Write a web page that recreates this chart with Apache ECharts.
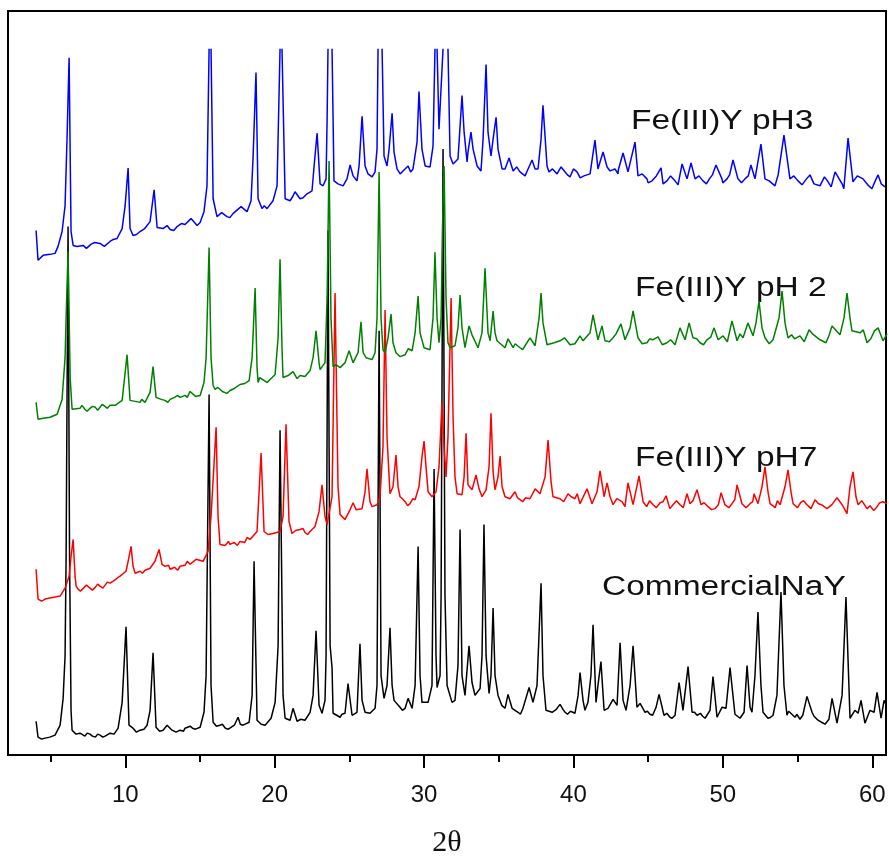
<!DOCTYPE html>
<html lang="en">
<head>
<meta charset="UTF-8">
<title>XRD patterns</title>
<script src="https://cdn.jsdelivr.net/npm/echarts@6/dist/echarts.min.js"></script>
<style>html,body{margin:0;padding:0;background:#fff;} #main{width:889px;height:863px;}</style>
</head>
<body>
<div id="main"></div>
<script>
// tick values on the 2theta axis
var majorTicks = [10, 20, 30, 40, 50, 60];
var minorTicks = [5, 15, 25, 35, 45, 55];
var names = ['CommercialNaY', 'Fe(III)Y pH7', 'Fe(III)Y pH 2', 'Fe(III)Y pH3'];

// [2theta, intensity (offset already applied, arbitrary units)]
// second line of each array = extra baseline readings, sorted in below
var commercialNaY = [
 [4.03,34],[4.16,18],[4.4,16],[4.63,17],[4.95,18],[5.30,20],[5.64,30],[5.84,57],[5.97,100],[6.04,200],[6.17,532],[6.27,200],[6.37,45],[6.44,25],[6.7,21],[6.97,22],[7.3,19],[7.64,21],[8.0,18],[8.31,20],[8.65,19],[8.98,22],[9.25,21],[9.52,27],[9.79,53],[10.05,129],[10.25,30],[10.52,27],[10.75,23],[10.99,25],[11.25,26],[11.46,30],[11.66,45],[11.86,103],[12.06,28],[12.3,24],[12.53,25],[12.80,30],[13.13,25],[13.4,23],[13.67,25],[14.0,27],[14.34,29],[14.7,26],[15.01,28],[15.27,43],[15.41,80],[15.61,363],[15.74,70],[15.88,33],[16.1,29],[16.34,30],[16.7,27],[17.01,28],[17.3,30],[17.55,38],[17.7,31],[17.88,30],[18.29,33],[18.49,60],[18.62,195],[18.82,35],[19.1,31],[19.36,30],[19.76,37],[20.03,53],[20.23,110],[20.36,327],[20.56,60],[20.70,37],[21.03,35],[21.23,47],[21.50,34],[21.75,36],[22.03,35],[22.37,43],[22.57,60],[22.77,125],[22.97,50],[23.17,42],[23.37,55],[23.44,100],[23.57,528],[23.71,110],[23.84,88],[23.91,42],[24.15,40],[24.38,38],[24.71,42],[24.91,72],[25.18,40],[25.51,43],[25.71,112],[25.85,55],[26.05,43],[26.38,42],[26.72,47],[26.85,70],[26.99,427],[27.12,80],[27.32,57],[27.52,70],[27.72,128],[27.86,70],[27.99,55],[28.39,48],[28.73,47],[28.93,57],[29.20,47],[29.40,70],[29.60,210],[29.73,80],[29.86,53],[30.27,53],[30.53,70],[30.67,288],[30.80,100],[30.87,68],[31.07,80],[31.14,160],[31.27,610],[31.40,160],[31.54,70],[31.87,53],[32.07,55],[32.27,90],[32.41,227],[32.54,80],[32.74,60],[33.01,110],[33.21,73],[33.41,60],[33.75,67],[33.88,100],[34.01,232],[34.15,100],[34.35,62],[34.48,80],[34.62,148],[34.75,80],[34.95,60],[35.2,50],[35.42,47],[35.62,61],[35.89,47],[36.29,43],[36.62,47],[37.03,68],[37.29,53],[37.56,70],[37.83,173],[37.96,80],[38.16,45],[38.57,43],[38.85,46],[39.10,51],[39.44,43],[39.8,44],[40.10,42],[40.31,60],[40.44,83],[40.64,55],[40.77,45],[40.97,53],[41.17,80],[41.31,131],[41.51,53],[41.64,70],[41.84,94],[42.05,45],[42.31,47],[42.65,56],[42.92,50],[43.12,113],[43.32,55],[43.52,45],[43.79,70],[43.99,110],[44.25,48],[44.46,52],[44.79,43],[45.12,41],[45.53,48],[45.73,61],[46.06,40],[46.46,38],[46.80,40],[47.07,73],[47.33,45],[47.67,89],[47.94,43],[48.27,40],[48.5,42],[48.81,37],[49.14,45],[49.34,79],[49.61,38],[49.94,48],[50.21,47],[50.48,88],[50.81,41],[51.15,37],[51.42,43],[51.62,90],[51.82,48],[51.95,43],[52.15,80],[52.35,144],[52.55,70],[52.69,43],[53.02,37],[53.36,40],[53.62,60],[53.89,164],[54.09,70],[54.29,40],[54.55,42],[54.83,38],[55.16,36],[55.63,59],[55.97,43],[56.37,35],[56.84,31],[57.31,57],[57.64,32],[57.98,60],[58.24,159],[58.51,37],[58.84,45],[59.05,42],[59.25,55],[59.51,32],[59.85,45],[60.12,43],[60.32,63],[60.59,37],[60.79,55],[60.92,51],
 [7.1,20],[7.45,22],[7.8,19],[8.15,21],[8.5,18],[13.9,24],[14.5,27],[16.5,31],[16.9,26],[24.5,41],[28.55,45],[36.0,46],[36.45,41],[39.3,46],[39.6,41],[44.95,44],[45.3,40],[46.25,42],[46.6,37],[48.1,43],[48.65,39],[53.2,38],[54.4,44],[54.95,41],[55.35,40],[56.1,39],[56.6,33],[57.1,36]
];

var fePH7 = [
 [4.03,187],[4.16,157],[4.4,155],[4.63,157],[4.95,158],[5.30,159],[5.64,160],[5.97,168],[6.24,180],[6.37,200],[6.51,217],[6.64,180],[6.71,170],[6.84,167],[7.2,168],[7.64,168],[8.0,169],[8.31,170],[8.65,171],[8.98,173],[9.3,176],[9.65,180],[10.05,185],[10.19,195],[10.39,210],[10.52,190],[10.66,183],[11.0,185],[11.32,186],[11.66,188],[11.99,195],[12.26,207],[12.46,192],[12.66,190],[13.00,187],[13.3,189],[13.67,190],[14.0,191],[14.34,192],[14.74,197],[15.21,195],[15.54,205],[15.74,240],[16.08,330],[16.21,240],[16.34,212],[16.7,211],[17.01,212],[17.3,214],[17.68,215],[18.0,214],[18.35,217],[18.82,225],[19.09,304],[19.29,225],[19.56,222],[19.9,223],[20.36,225],[20.56,240],[20.76,333],[20.96,235],[21.16,223],[21.4,226],[21.70,227],[22.03,224],[22.37,225],[22.70,230],[22.97,245],[23.17,272],[23.37,240],[23.51,232],[23.84,260],[24.04,465],[24.24,270],[24.38,242],[24.71,237],[25.05,247],[25.25,254],[25.45,247],[25.85,248],[26.05,265],[26.18,288],[26.38,255],[26.52,250],[26.85,252],[27.05,260],[27.25,310],[27.39,448],[27.52,320],[27.72,263],[27.92,270],[28.12,302],[28.26,270],[28.39,260],[28.73,255],[29.06,253],[29.40,257],[29.66,270],[29.86,300],[30.00,316],[30.13,290],[30.27,265],[30.53,260],[30.80,265],[31.00,290],[31.20,355],[31.34,310],[31.47,280],[31.60,320],[31.81,460],[31.94,340],[32.07,280],[32.21,263],[32.54,262],[32.68,280],[32.81,324],[32.94,272],[33.21,267],[33.48,282],[33.68,268],[33.88,260],[34.15,267],[34.35,290],[34.48,344],[34.62,285],[34.75,267],[34.95,280],[35.09,301],[35.22,270],[35.42,260],[35.75,258],[36.09,265],[36.42,257],[36.8,259],[37.09,258],[37.43,268],[37.76,263],[38.10,280],[38.30,317],[38.50,275],[38.63,260],[39.10,258],[39.64,263],[40.10,258],[40.44,253],[40.91,268],[41.24,253],[41.58,265],[41.78,286],[42.05,260],[42.25,274],[42.45,260],[42.65,252],[43.25,255],[43.65,274],[43.99,252],[44.39,281],[44.66,255],[45.33,252],[45.8,254],[46.20,261],[46.66,252],[47.13,252],[47.60,263],[47.80,253],[48.27,267],[48.54,252],[49.01,250],[49.47,248],[49.88,264],[50.14,252],[50.61,253],[50.95,272],[51.28,253],[51.82,253],[52.09,263],[52.35,253],[52.62,270],[52.82,290],[53.02,265],[53.16,253],[53.83,252],[54.16,270],[54.36,287],[54.56,265],[54.70,253],[55.2,254],[55.63,252],[56.17,257],[56.6,252],[56.97,248],[57.64,259],[57.98,252],[58.31,243],[58.51,270],[58.71,285],[58.91,260],[59.05,252],[59.65,248],[60.32,250],[60.72,255],[60.99,253],
 [7.0,165],[7.4,171],[7.8,166],[8.15,172],[8.5,168],[8.8,174],[9.1,171],[9.45,178],[11.15,183],[12.9,191],[13.5,186],[14.15,195],[16.9,215],[17.5,211],[18.15,219],[21.9,228],[22.2,222],[28.55,258],[28.9,251],[29.25,258],[36.25,259],[36.6,255],[39.35,255],[39.85,260],[40.25,263],[42.9,258],[43.45,250],[44.9,250],[45.1,256],[45.55,249],[46.0,255],[46.45,248],[46.9,256],[47.35,249],[48.0,256],[48.75,254],[49.25,247],[49.7,252],[50.4,249],[50.8,257],[51.55,249],[52.0,255],[53.5,249],[53.65,256],[55.0,249],[55.4,256],[55.9,248],[56.4,253],[57.3,252],[59.3,256],[59.85,251],[60.1,246],[60.5,254]
];

var fePH2 = [
 [4.03,355],[4.16,338],[4.5,339],[4.97,340],[5.44,343],[5.77,358],[5.97,400],[6.04,440],[6.17,507],[6.31,380],[6.44,348],[6.97,349],[7.3,348],[7.64,349],[8.0,350],[8.31,350],[8.65,351],[8.98,352],[9.32,352],[9.79,357],[9.92,375],[10.12,403],[10.32,357],[10.66,356],[10.99,355],[11.32,355],[11.66,365],[11.86,391],[12.06,360],[12.4,358],[12.66,357],[13.00,358],[13.3,360],[13.67,360],[14.0,362],[14.34,366],[14.7,361],[15.01,362],[15.27,375],[15.41,400],[15.61,511],[15.74,400],[15.88,372],[16.01,368],[16.5,366],[17.01,367],[17.3,369],[17.68,373],[18.0,374],[18.29,377],[18.49,400],[18.69,470],[18.82,390],[18.89,375],[19.3,377],[19.69,378],[20.03,383],[20.23,420],[20.36,499],[20.49,410],[20.56,380],[20.9,382],[21.23,386],[21.70,382],[22.03,381],[22.37,387],[22.57,400],[22.77,427],[22.97,395],[23.04,388],[23.37,395],[23.51,460],[23.64,598],[23.77,440],[23.91,391],[24.38,390],[24.71,395],[24.98,407],[25.25,395],[25.58,405],[25.78,436],[25.92,405],[26.12,400],[26.52,398],[26.72,405],[26.85,440],[26.99,587],[27.12,440],[27.25,408],[27.39,405],[27.59,420],[27.79,444],[27.92,415],[28.12,405],[28.4,401],[28.73,403],[29.20,407],[29.40,425],[29.60,462],[29.73,425],[30.00,410],[30.40,408],[30.60,440],[30.73,506],[30.87,440],[31.00,415],[31.14,440],[31.27,560],[31.34,593],[31.47,460],[31.60,415],[31.74,410],[32.07,412],[32.27,430],[32.41,463],[32.54,430],[32.74,410],[33.01,432],[33.21,423],[33.61,410],[33.88,425],[34.08,490],[34.28,425],[34.42,417],[34.62,447],[34.75,425],[34.88,417],[35.42,410],[35.62,419],[35.96,410],[36.42,410],[36.8,413],[37.09,420],[37.43,412],[37.70,440],[37.83,465],[37.96,435],[38.23,413],[38.7,415],[39.10,417],[39.77,413],[40.44,422],[40.64,417],[41.11,425],[41.31,443],[41.64,418],[41.91,432],[42.11,417],[42.65,420],[43.18,434],[43.45,418],[43.79,430],[43.99,447],[44.32,420],[44.92,415],[45.3,418],[45.66,421],[46.26,415],[46.80,413],[47.13,430],[47.47,418],[47.74,435],[48.00,420],[48.47,415],[48.94,418],[49.41,430],[49.68,418],[50.01,422],[50.61,437],[50.95,417],[51.35,420],[51.68,435],[52.02,422],[52.22,435],[52.42,457],[52.62,430],[52.82,420],[53.36,418],[53.76,440],[53.96,467],[54.16,435],[54.36,420],[54.8,419],[55.16,422],[55.77,428],[56.50,418],[57.31,432],[57.84,423],[58.11,440],[58.31,465],[58.51,440],[58.64,427],[59.18,425],[59.65,415],[60.39,430],[60.72,417],[60.99,424],
 [7.1,352],[7.45,346],[7.8,351],[8.15,347],[8.45,353],[8.8,349],[11.1,358],[12.85,355],[13.5,362],[14.15,360],[16.2,370],[16.8,364],[19.0,380],[19.5,375],[21.5,379],[24.1,393],[28.95,409],[36.1,414],[36.6,408],[39.4,420],[40.1,414],[42.4,416],[42.85,424],[44.6,414],[45.1,419],[45.95,413],[46.5,418],[48.25,419],[48.7,413],[49.2,421],[50.3,416],[51.15,424],[53.1,414],[54.6,423],[55.45,416],[56.0,424],[56.9,415],[57.1,422],[59.4,428],[59.9,419],[60.15,427]
];

// '-' marks where the trace runs off the top of the original frame
var fePH3 = [
 [4.03,528],[4.16,498],[4.50,503],[4.97,504],[5.30,505],[5.50,512],[5.77,527],[5.97,553],[6.10,620],[6.24,702],[6.37,527],[6.51,513],[6.77,512],[7.18,513],[7.7,514],[8.31,515],[8.98,517],[9.45,520],[9.79,530],[9.99,553],[10.19,591],[10.32,530],[10.52,523],[10.99,527],[11.3,530],[11.66,537],[11.93,569],[12.13,531],[12.53,530],[13.0,529],[13.47,532],[14.0,534],[14.40,540],[14.81,533],[15.01,536],[15.27,547],[15.47,573],[15.61,711],[15.68,'-'],[15.74,711],[15.88,560],[16.14,542],[16.81,542],[17.21,545],[17.75,552],[18.15,547],[18.42,558],[18.55,600],[18.75,687],[18.89,560],[19.16,550],[19.49,550],[19.89,558],[20.16,573],[20.36,711],[20.43,'-'],[20.49,711],[20.70,560],[21.03,558],[21.36,567],[21.70,560],[22.17,565],[22.50,568],[22.64,593],[22.84,626],[23.04,575],[23.24,573],[23.44,580],[23.51,640],[23.57,711],[23.71,'-'],[23.84,711],[23.91,640],[23.97,578],[24.24,575],[24.58,573],[24.84,580],[25.05,594],[25.25,583],[25.51,578],[25.65,593],[25.85,643],[26.05,593],[26.25,585],[26.52,582],[26.72,587],[26.85,610],[26.92,711],[27.05,'-'],[27.19,711],[27.32,603],[27.52,593],[27.66,610],[27.86,646],[27.99,607],[28.19,590],[28.59,588],[28.93,593],[29.26,590],[29.53,617],[29.66,668],[29.86,610],[30.07,593],[30.40,592],[30.60,613],[30.73,711],[30.80,'-'],[30.87,711],[31.00,630],[31.27,711],[31.40,'-'],[31.60,711],[31.74,603],[31.94,595],[32.27,600],[32.41,633],[32.54,664],[32.68,627],[32.88,597],[32.94,607],[33.14,627],[33.28,610],[33.55,593],[33.81,588],[33.95,620],[34.15,695],[34.28,627],[34.48,603],[34.62,620],[34.82,642],[34.95,610],[35.22,590],[35.42,590],[35.69,601],[35.96,588],[36.42,587],[36.76,583],[36.96,590],[37.23,599],[37.43,590],[37.63,590],[37.83,620],[37.96,654],[38.23,593],[38.36,587],[38.90,585],[39.17,592],[39.44,587],[39.77,582],[40.24,587],[40.7,583],[41.11,585],[41.44,619],[41.64,590],[41.98,607],[42.25,592],[42.45,588],[42.78,590],[42.98,585],[43.32,606],[43.65,587],[44.12,617],[44.32,583],[44.92,580],[45.26,578],[45.86,591],[46.26,578],[46.80,578],[47.27,595],[47.60,580],[47.87,596],[48.14,580],[48.67,578],[49.1,580],[49.54,594],[49.94,580],[50.28,580],[50.68,599],[51.01,580],[51.48,580],[51.88,594],[52.15,580],[52.55,615],[52.82,580],[53.49,573],[54.09,624],[54.49,580],[55.03,578],[55.83,584],[56.50,573],[57.0,578],[57.51,587],[57.98,575],[58.38,621],[58.71,577],[59.38,580],[59.98,570],[60.39,584],[60.85,572],
 [7.4,510],[7.95,516],[8.6,512],[9.2,519],[10.75,524],[12.8,533],[13.25,528],[13.75,535],[16.45,546],[17.0,541],[19.3,553],[21.2,562],[21.9,561],[28.4,585],[29.1,587],[36.2,592],[38.6,590],[39.6,584],[40.0,590],[40.45,581],[43.0,589],[44.6,585],[45.0,576],[45.55,583],[46.0,575],[46.5,583],[47.0,574],[48.4,583],[48.9,575],[49.3,584],[50.0,576],[50.45,584],[51.25,576],[51.7,583],[53.1,578],[53.7,584],[54.75,583],[55.3,574],[55.6,580],[56.1,575],[56.8,582],[57.25,572],[58.1,570],[59.0,583],[59.7,574],[60.2,578],[60.6,575]
];

function byAngle(a, b) { return a[0] - b[0]; }
commercialNaY.sort(byAngle);
fePH7.sort(byAngle);
fePH2.sort(byAngle);
fePH3.sort(byAngle);

var chart = echarts.init(document.getElementById('main'));

var colors = ['#000000', '#ff0000', '#008000', '#0000ff'];
var seriesData = [commercialNaY, fePH7, fePH2, fePH3];

// label placement for each trace: [left, middle y]
var labelPos = [[602, 588], [635, 459], [635, 289], [631, 122]];

var series = seriesData.map(function (d, i) {
  return {
    name: names[i],
    type: 'line',
    data: d,
    showSymbol: false,
    symbol: 'none',
    connectNulls: false,
    lineStyle: { color: colors[i], width: 1.5 },
    itemStyle: { color: colors[i] }
  };
});

var texts = names.map(function (n, i) {
  return {
    type: 'text',
    x: labelPos[i][0],
    y: labelPos[i][1],
    scaleX: 1.24,
    style: {
      text: n,
      font: '27px "Liberation Sans", Arial, sans-serif',
      fill: '#111',
      align: 'left', verticalAlign: 'middle',
      textAlign: 'left', textVerticalAlign: 'middle'
    }
  };
});

var option = {
  animation: false,
  backgroundColor: '#fff',
  grid: { left: 8, right: 3, top: 11, bottom: 103, show: true, borderColor: '#000', borderWidth: 2 },
  xAxis: [{
    type: 'value', min: 2.15, max: 60.92, position: 'bottom',
    axisLine: { onZero: false, lineStyle: { color: '#000', width: 2 } },
    axisTick: { customValues: majorTicks, length: 13, lineStyle: { color: '#000', width: 2 } },
    axisLabel: { customValues: majorTicks, margin: 28, fontSize: 24, fontFamily: 'Liberation Sans', color: '#111' },
    splitLine: { show: false },
    name: '2θ', nameLocation: 'middle', nameGap: 73,
    nameTextStyle: { fontFamily: 'Liberation Serif', fontSize: 30, color: '#111' }
  }, {
    type: 'value', min: 2.15, max: 60.92, position: 'bottom',
    axisLine: { show: false, onZero: false },
    axisTick: { customValues: minorTicks, length: 7, lineStyle: { color: '#000', width: 2 } },
    axisLabel: { show: false },
    splitLine: { show: false }
  }],
  yAxis: { type: 'value', min: 0, max: 749, show: false },
  series: series,
  graphic: texts
};

chart.setOption(option);
</script>
</body>
</html>
